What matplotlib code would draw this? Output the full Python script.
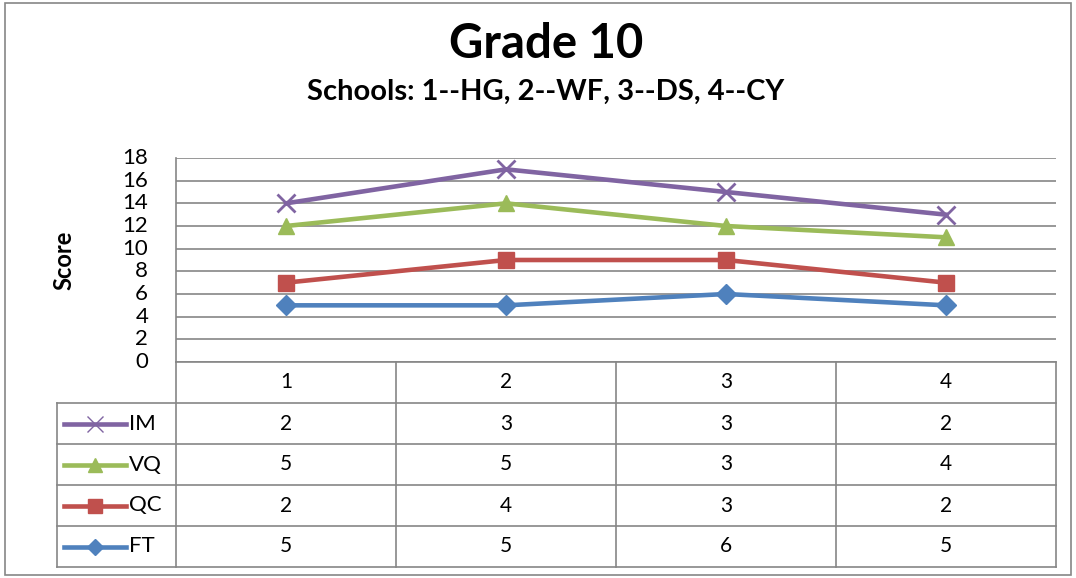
import numpy as np
import matplotlib
matplotlib.use('Agg')
import matplotlib.pyplot as plt
from matplotlib.patches import Rectangle
from matplotlib.lines import Line2D

plt.rcParams['font.family'] = ['Lato', 'DejaVu Sans']

schools = ['1', '2', '3', '4']
series = ['IM', 'VQ', 'QC', 'FT']
ft = [5, 5, 6, 5]
qc = [2, 4, 3, 2]
vq = [5, 5, 3, 4]
im = [2, 3, 3, 2]
yticks = [0, 2, 4, 6, 8, 10, 12, 14, 16, 18]

colors = {'FT': '#4F81BD', 'QC': '#C0504D', 'VQ': '#9BBB59', 'IM': '#8064A2'}
markers = {'FT': 'D', 'QC': 's', 'VQ': '^', 'IM': 'x'}
msizes = {'FT': 10, 'QC': 12, 'VQ': 12, 'IM': 13}
values = {'FT': ft, 'QC': qc, 'VQ': vq, 'IM': im}

W, H = 1076, 578
fig = plt.figure(figsize=(W / 100, H / 100), dpi=100)

# outer chart border
fig.patches.append(Rectangle((5 / W, 3 / H), 1066 / W, 572 / H, transform=fig.transFigure,
                             fill=False, edgecolor='#868686', lw=1.2))

fig.text(546 / W, 1 - 44 / H, 'Grade 10', ha='center', va='center', fontsize=34, fontweight='bold')
fig.text(546 / W, 1 - 92 / H, 'Schools: 1--HG, 2--WF, 3--DS, 4--CY', ha='center', va='center',
         fontsize=21, fontweight='bold')

# plot area
pl, pr, pt, pb = 176, 1056, 158, 362
ax = fig.add_axes([pl / W, 1 - pb / H, (pr - pl) / W, (pb - pt) / H])
x = np.arange(len(schools))
stack = np.cumsum([ft, qc, vq, im], axis=0)
order = ['FT', 'QC', 'VQ', 'IM']
for i, name in enumerate(order):
    ax.plot(x, stack[i], color=colors[name], lw=3.3, marker=markers[name], ms=msizes[name],
            mew=2 if name == 'IM' else 1, zorder=3 + i)
ax.set_xlim(-0.5, len(schools) - 0.5)
ax.set_ylim(0, 18)
ax.set_yticks(yticks)
ax.set_yticklabels([str(t) for t in yticks], fontsize=16)
ax.yaxis.grid(True, color='#868686', lw=1.2)
ax.set_axisbelow(True)
ax.set_xticks([])
ax.tick_params(axis='y', length=0, pad=20)
for s in ['top', 'right', 'bottom']:
    ax.spines[s].set_visible(False)
ax.spines['left'].set_color('#868686')
ax.spines['left'].set_linewidth(1.2)
for lbl in ax.get_yticklabels():
    lbl.set_va('center')
fig.text(64 / W, 1 - 260 / H, 'Score', rotation=90, ha='center', va='center', fontsize=17,
         fontweight='bold')

# data table
tl = 57
row_edges = [362, 403, 444, 485, 526, 567]
col_edges = np.linspace(pl, pr, len(schools) + 1)
tax = fig.add_axes([0, 0, 1, 1])
tax.set_xlim(0, W)
tax.set_ylim(H, 0)
tax.axis('off')
lc = '#868686'
tax.plot([pl, pr], [row_edges[0], row_edges[0]], color=lc, lw=1.2)
for r in row_edges[1:]:
    tax.plot([tl, pr], [r, r], color=lc, lw=1.2)
for c in col_edges:
    tax.plot([c, c], [row_edges[0], row_edges[-1]], color=lc, lw=1.2)
tax.plot([tl, tl], [row_edges[1], row_edges[-1]], color=lc, lw=1.2)
for j, s in enumerate(schools):
    tax.text((col_edges[j] + col_edges[j + 1]) / 2, (row_edges[0] + row_edges[1]) / 2, s,
             ha='center', va='center', fontsize=15)
for i, name in enumerate(series):
    yc = (row_edges[i + 1] + row_edges[i + 2]) / 2
    tax.add_line(Line2D([64, 126], [yc, yc], color=colors[name], lw=3.3))
    tax.plot([95], [yc], marker=markers[name], color=colors[name],
             ms=msizes[name] - 2, mew=1)
    tax.text(129, yc, name, ha='left', va='center', fontsize=16)
    for j, v in enumerate(values[name]):
        tax.text((col_edges[j] + col_edges[j + 1]) / 2, yc, str(v), ha='center', va='center',
                 fontsize=15)

fig.savefig('out.png', dpi=100)
